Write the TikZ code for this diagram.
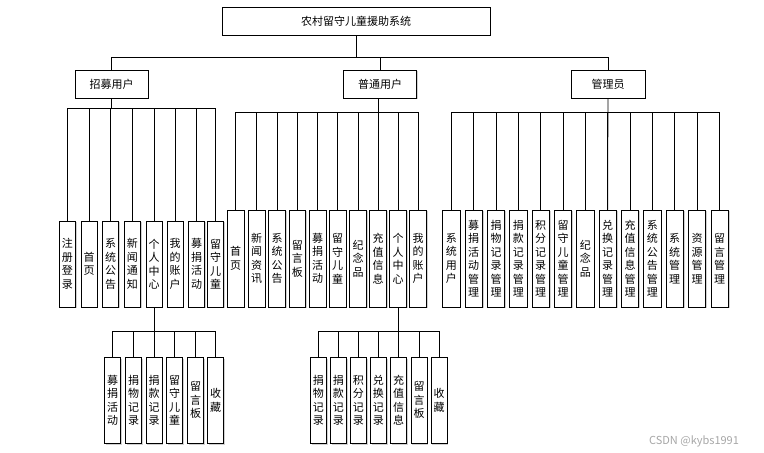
\documentclass[tikz,border=0pt]{standalone}
\usepackage{fontspec}
\newfontfamily\cjk{Noto Sans CJK SC}
\usepackage{tikz}
\usetikzlibrary{calc,shadows}

\tikzset{
  box/.style={draw, thick, fill=white, inner sep=0pt, align=center,
    drop shadow={shadow xshift=1.2pt, shadow yshift=-1.2pt, fill=black!30, opacity=0.6},
    font=\cjk\fontsize{11}{13.5}\selectfont},
  topbox/.style={box, minimum width=268, minimum height=28},
  userbox/.style={box, minimum width=73, minimum height=28},
  leafa/.style={box, minimum width=16, minimum height=86},
  leafb/.style={box, minimum width=16.7, minimum height=97},
  leafc/.style={box, minimum width=17.3, minimum height=97},
  wire/.style={draw, line width=0.7pt}
}

\begin{document}
\begin{tikzpicture}[x=1pt, y=-1pt]
\useasboundingbox (0,0) rectangle (764,453);

% top and users
\node[topbox] (root) at (356,21) {农村留守儿童援助系统};
\node[userbox] (zm) at (111.5,84) {招募用户};
\node[userbox] (pt) at (380,84) {普通用户};
\node[userbox, minimum width=74] (gl) at (608,84) {管理员};

% 招募用户
\node[leafa] (zm1) at (67.3,264) {注\\册\\登\\录};
\node[leafa] (zm2) at (89,264) {首\\页};
\node[leafa] (zm3) at (110.7,264) {系\\统\\公\\告};
\node[leafa] (zm4) at (132.3,264) {新\\闻\\通\\知};
\node[leafa] (zm5) at (154,264) {个\\人\\中\\心};
\node[leafa] (zm6) at (175,264) {我\\的\\账\\户};
\node[leafa] (zm7) at (196.7,264) {募\\捐\\活\\动};
\node[leafa] (zm8) at (215.7,264) {留\\守\\儿\\童};

% 普通用户
\node[leafb] (pt1) at (235.7,258.5) {首\\页};
\node[leafb] (pt2) at (256.7,258.5) {新\\闻\\资\\讯};
\node[leafb] (pt3) at (277,258.5) {系\\统\\公\\告};
\node[leafb] (pt4) at (297.3,258.5) {留\\言\\板};
\node[leafb] (pt5) at (317.7,258.5) {募\\捐\\活\\动};
\node[leafb] (pt6) at (337.7,258.5) {留\\守\\儿\\童};
\node[leafb] (pt7) at (358,258.5) {纪\\念\\品};
\node[leafb] (pt8) at (378,258.5) {充\\值\\信\\息};
\node[leafb] (pt9) at (398,258.5) {个\\人\\中\\心};
\node[leafb] (pt10) at (418,258.5) {我\\的\\账\\户};

% 管理员
\node[leafc] (gl1) at (451.3,258.5) {系\\统\\用\\户};
\node[leafc] (gl2) at (473.7,258.5) {募\\捐\\活\\动\\管\\理};
\node[leafc] (gl3) at (496,258.5) {捐\\物\\记\\录\\管\\理};
\node[leafc] (gl4) at (518.3,258.5) {捐\\款\\记\\录\\管\\理};
\node[leafc] (gl5) at (540.7,258.5) {积\\分\\记\\录\\管\\理};
\node[leafc] (gl6) at (563,258.5) {留\\守\\儿\\童\\管\\理};
\node[leafc] (gl7) at (585.3,258.5) {纪\\念\\品};
\node[leafc] (gl8) at (607.7,258.5) {兑\\换\\记\\录\\管\\理};
\node[leafc] (gl9) at (630,258.5) {充\\值\\信\\息\\管\\理};
\node[leafc] (gl10) at (652.3,258.5) {系\\统\\公\\告\\管\\理};
\node[leafc] (gl11) at (674.7,258.5) {系\\统\\管\\理};
\node[leafc] (gl12) at (697,258.5) {资\\源\\管\\理};
\node[leafc] (gl13) at (719.7,258.5) {留\\言\\管\\理};

% 个人中心 (招募用户)
\node[leafa] (zc1) at (112.7,400.3) {募\\捐\\活\\动};
\node[leafa] (zc2) at (133.7,400.3) {捐\\物\\记\\录};
\node[leafa] (zc3) at (154,400.3) {捐\\款\\记\\录};
\node[leafa] (zc4) at (174.7,400.3) {留\\守\\儿\\童};
\node[leafa] (zc5) at (195.7,400.3) {留\\言\\板};
\node[leafa] (zc6) at (215.7,400.3) {收\\藏};

% 个人中心 (普通用户)
\node[leafa] (pc1) at (318.3,400.3) {捐\\物\\记\\录};
\node[leafa] (pc2) at (338.3,400.3) {捐\\款\\记\\录};
\node[leafa] (pc3) at (358.3,400.3) {积\\分\\记\\录};
\node[leafa] (pc4) at (378.3,400.3) {兑\\换\\记\\录};
\node[leafa] (pc5) at (398.7,400.3) {充\\值\\信\\息};
\node[leafa] (pc6) at (419,400.3) {留\\言\\板};
\node[leafa] (pc7) at (439,400.3) {收\\藏};

% bus lines
\coordinate (b0) at (0,57);
\coordinate (bzm) at (0,108);
\coordinate (bpt) at (0,112.3);
\coordinate (bzc) at (0,331.7);

\draw[wire] (root.south) -- (root.south |- b0);
\draw[wire] (zm.north) -- (zm.north |- b0) -- (gl.north |- b0) -- (gl.north);
\draw[wire] (pt.north) -- (pt.north |- b0);

\draw[wire] (zm.south) -- (zm.south |- bzm);
\draw[wire] (zm1.north) -- (zm1.north |- bzm) -- (zm8.north |- bzm) -- (zm8.north);
\foreach \i in {2,...,7} \draw[wire] (zm\i.north) -- (zm\i.north |- bzm);

\draw[wire] (pt.south) -- (pt.south -| pt8.north) -- (pt8.north);
\draw[wire] (pt1.north) -- (pt1.north |- bpt) -- (pt10.north |- bpt) -- (pt10.north);
\foreach \i in {2,...,9} \draw[wire] (pt\i.north) -- (pt\i.north |- bpt);

\draw[wire] (gl.south) -- (gl8.north);
\draw[wire] (gl1.north) -- (gl1.north |- bpt) -- (gl13.north |- bpt) -- (gl13.north);
\foreach \i in {2,...,12} \draw[wire] (gl\i.north) -- (gl\i.north |- bpt);

\draw[wire] (zm5.south) -- (zm5.south |- bzc);
\draw[wire] (zc1.north) -- (zc1.north |- bzc) -- (zc6.north |- bzc) -- (zc6.north);
\foreach \i in {2,...,5} \draw[wire] (zc\i.north) -- (zc\i.north |- bzc);

\draw[wire] (pt9.south) -- (pt9.south |- bzc);
\draw[wire] (pc1.north) -- (pc1.north |- bzc) -- (pc7.north |- bzc) -- (pc7.north);
\foreach \i in {2,...,6} \draw[wire] (pc\i.north) -- (pc\i.north |- bzc);

% watermark
\node[text=black!35, font=\cjk\fontsize{11}{13}\selectfont] (mark) at (694,441) {CSDN @kybs1991};
\end{tikzpicture}
\end{document}
